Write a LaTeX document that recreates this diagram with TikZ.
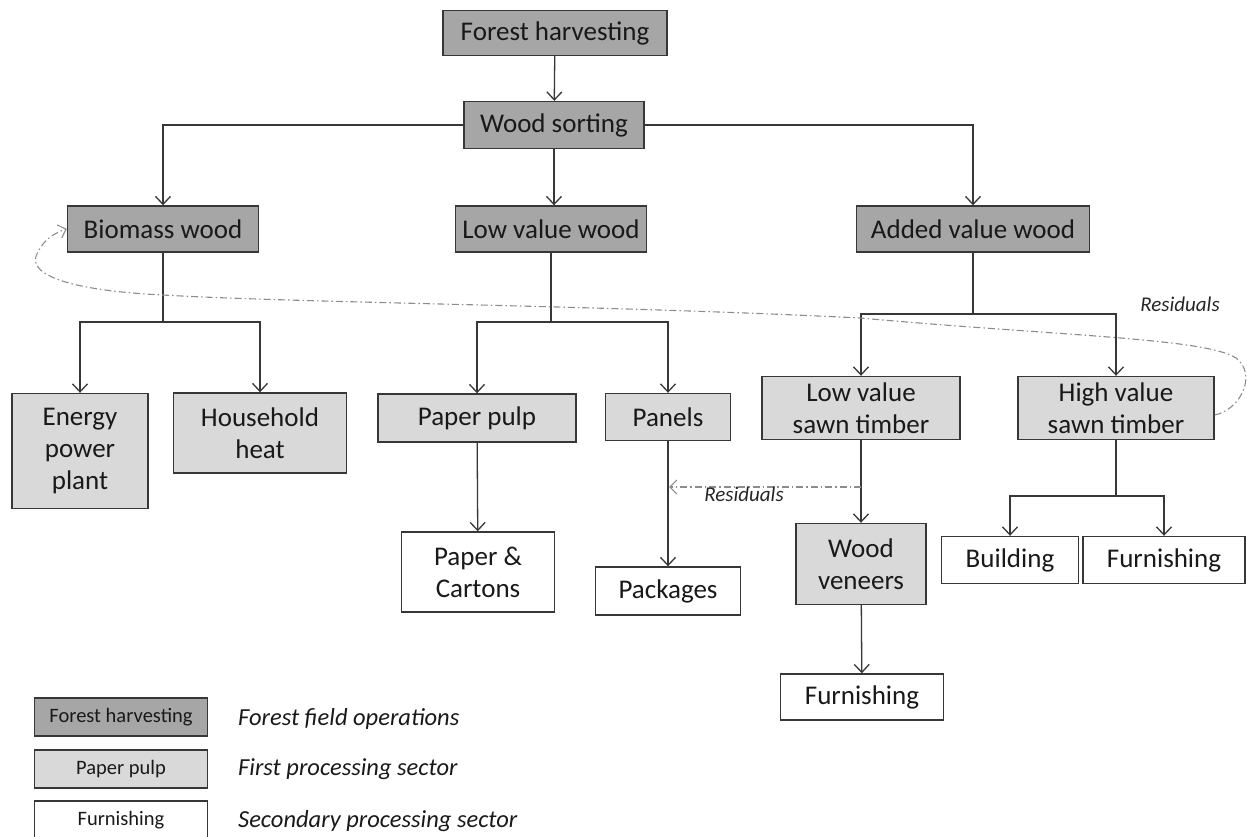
\documentclass[tikz,border=0pt]{standalone}
\usepackage{fontspec}
\setmainfont{Carlito}
\usetikzlibrary{arrows.meta,calc}
\definecolor{darkbox}{RGB}{166,166,166}
\definecolor{lightbox}{RGB}{217,217,217}
\definecolor{edgec}{RGB}{55,55,55}
\definecolor{resc}{RGB}{140,140,140}
\begin{document}
\begin{tikzpicture}[x=1pt,y=-1pt,
 box/.style={draw=edgec,line width=1.4pt,inner sep=0pt,align=center,font=\fontsize{27}{32}\selectfont,text=black!90},
 dark/.style={box,fill=darkbox},
 light/.style={box,fill=lightbox},
 plain/.style={box,fill=white},
 lbox/.style={draw=edgec,line width=1.4pt,inner sep=0pt,minimum width=173pt,minimum height=38pt,font=\fontsize{20.5}{24}\selectfont,text=black!90},
 ltext/.style={anchor=west,inner sep=0pt,font=\fontsize{24.5}{28}\selectfont\itshape,text=black!90},
 ln/.style={draw=edgec,line width=1.3pt},
 arr/.style={ln,-{Straight Barb[length=8pt,width=15pt,line width=1.3pt]}},
 res/.style={draw=resc,line width=1.1pt,dash pattern=on 7pt off 3pt on 1.5pt off 3pt,-{Straight Barb[length=7pt,width=14pt,line width=1.1pt]}},
 rlab/.style={inner sep=0pt,font=\fontsize{21}{25}\selectfont\itshape,text=black!85}
]
\useasboundingbox (0,0) rectangle (1247,837);

% nodes
\node[dark,minimum width=224pt,minimum height=45pt] (fh) at (555,33) {Forest harvesting};
\node[dark,minimum width=180pt,minimum height=47pt] (ws) at (554,125) {Wood sorting};
\node[dark,minimum width=191pt,minimum height=46pt] (bio) at (163,229) {Biomass wood};
\node[dark,minimum width=191pt,minimum height=46pt] (lvw) at (551,229) {Low value wood};
\node[dark,minimum width=233pt,minimum height=46pt] (avw) at (973,229) {Added value wood};

\node[light,minimum width=136pt,minimum height=115pt] (ep) at (80,451) {Energy\\power\\plant};
\node[light,minimum width=173pt,minimum height=80pt] (hh) at (260,433) {Household\\heat};
\node[light,minimum width=198pt,minimum height=48pt] (pp) at (477,418) {Paper pulp};
\node[light,minimum width=125pt,minimum height=47pt] (pan) at (668,417) {Panels};
\node[light,minimum width=198pt,minimum height=63pt] (lst) at (861,408) {Low value\\sawn timber};
\node[light,minimum width=196pt,minimum height=63pt] (hst) at (1116,408) {High value\\sawn timber};

\node[plain,minimum width=153pt,minimum height=80pt] (pc) at (478,572) {Paper \&\\Cartons};
\node[plain,minimum width=145pt,minimum height=48pt] (pk) at (668,591) {Packages};
\node[light,minimum width=130pt,minimum height=81pt] (wv) at (861,564) {Wood\\veneers};
\node[plain,minimum width=163pt,minimum height=46pt] (fu1) at (862,697) {Furnishing};
\node[plain,minimum width=137pt,minimum height=47pt] (bu) at (1010,560) {Building};
\node[plain,minimum width=162pt,minimum height=47pt] (fu2) at (1164,560) {Furnishing};

% junctions
\coordinate (jb) at (163,322);
\coordinate (jl) at (551,322);
\coordinate (ja) at (973,314);
\coordinate (jh) at (1116,496);

% connectors
\draw[arr] (fh) -- (ws);
\draw[arr] (ws.west) -| (bio.north);
\draw[arr] (ws.east) -| (avw.north);
\draw[arr] (ws.south) -- (ws.south |- lvw.north);

\draw[ln] (bio.south) -- (jb);
\draw[arr] (jb) -| (ep.north);
\draw[arr] (jb) -| (hh.north);

\draw[ln] (lvw.south) -- (jl);
\draw[arr] (jl) -| (pp.north);
\draw[arr] (jl) -| (pan.north);

\draw[ln] (avw.south) -- (ja);
\draw[arr] (ja) -| (lst.north);
\draw[arr] (ja) -| (hst.north);

\draw[arr] (pp) -- (pc);
\draw[arr] (pan) -- (pk);
\draw[arr] (lst) -- (wv);
\draw[arr] (wv) -- (fu1);

\draw[ln] (hst.south) -- (jh);
\draw[arr] (jh) -| (bu.north);
\draw[arr] (jh) -| (fu2.north);

% residual flows
\coordinate (r1) at (861,487);
\coordinate (r2) at (669,487);
\draw[res] (r1) -- (r2);
\node[rlab] (rl1) at (744,494) {Residuals};

\coordinate (r3) at ($(hst.east)+(0,7)$);
\draw[res] (r3) .. controls (1240,410) and (1258,375) .. (1236,358)
  .. controls (1205,338) and (1060,336) .. (860,318)
  .. controls (600,305) and (300,303) .. (163,295)
  .. controls (60,290) and (25,272) .. (38,252)
  .. controls (45,238) and (55,233) .. (bio.west);
\node[rlab] (rl2) at (1180,304) {Residuals};

% legend
\node[lbox,fill=darkbox] (lg1) at (121,717) {Forest harvesting};
\node[lbox,fill=lightbox] (lg2) at (121,769) {Paper pulp};
\node[lbox,fill=white] (lg3) at (121,820) {Furnishing};
\node[ltext] (lt1) at (238,719) {Forest field operations};
\node[ltext] (lt2) at (238,769) {First processing sector};
\node[ltext] (lt3) at (238,821) {Secondary processing sector};
\end{tikzpicture}
\end{document}
